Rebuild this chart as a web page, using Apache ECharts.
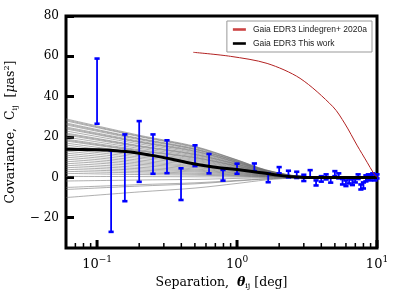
<!DOCTYPE html>
<html><head><meta charset="utf-8">
<script src="https://cdn.jsdelivr.net/npm/echarts@6/dist/echarts.min.js"></script>
<style>html,body{margin:0;padding:0;background:#fff}#c{width:399px;height:299px}</style>
</head><body><div id="c"></div>
<script>
// ---- tick labels ----
const xTickMajor = [0.1, 1, 10];
const xTickMinor = [0.07, 0.08, 0.09, 0.2, 0.3, 0.4, 0.5, 0.6, 0.7, 0.8, 0.9, 2, 3, 4, 5, 6, 7, 8, 9];
const yTicks = [-20, 0, 20, 40, 60, 80];

// ---- binned measurements (blue error bars) ----
const binX = [0.1, 0.126, 0.158, 0.2, 0.251, 0.316, 0.398, 0.501, 0.631, 0.794,
  1.0, 1.33, 1.67, 2.0, 2.33, 2.67, 3.0, 3.33, 3.67, 4.0, 4.33, 4.67, 5.0, 5.33,
  5.67, 6.0, 6.33, 6.67, 7.0, 7.33, 7.67, 8.0, 8.33, 8.67, 9.0, 9.33, 9.67, 10.0];
const binLow = [26.6, -27, -11.8, -2.2, 1.8, 2.1, -11.2, 5.6, 2.0, -1.6,
  1.8, 3.1, -2.4, 2.0, 0.0, -0.3, -1.8, 0.0, -4.0, -2.1, -1.0, -2.6, 0.6, -0.5,
  -3.5, -4.3, -3.0, -3.8, -2.5, -0.8, -6.0, -5.5, -2.0, -1.0, -1.5, 0.0, -1.5, -0.5];
const binHigh = [58.9, 13.4, 21.3, 27.9, 21.3, 18.4, 4.5, 15.9, 11.6, 3.7,
  6.8, 6.9, 2.0, 5.1, 3.3, 2.8, 1.3, 3.6, -1.5, 0.6, 1.5, 0.0, 3.1, 2.0,
  -0.8, -1.5, -0.5, -1.0, 0.0, 1.5, -3.5, -2.5, 1.0, 1.5, 1.2, 2.0, 1.5, 1.5];

// ---- this work (black) ----
const thisWorkX = [0.06, 0.1, 0.15, 0.2, 0.3, 0.4, 0.5, 0.7, 1.0, 1.5, 2.0, 2.5, 3.0, 4.0, 6.0, 10.0];
const thisWorkY = [14.0, 13.7, 13.0, 12.0, 9.8, 8.0, 6.6, 5.0, 3.9, 2.3, 1.0, 0.3, 0.0, 0.0, 0.0, 0.0];

// ---- Lindegren+ 2020a (red) ----
const lindegrenX = [0.487, 0.9, 1.64, 2.82, 4.85, 5.91, 7.19, 8.5, 9.41, 10.0];
const lindegrenY = [62.0, 60.0, 56.5, 49.1, 35.0, 26.5, 16.0, 7.5, 2.3, 0.0];

// ---- realisations (gray) ----
const grayX = [0.06, 0.2, 0.5, 1.0, 1.6, 2.8, 10];
const grayLines = [
  [29, 20.9, 15.4, 8.7, 3.8, 0.6, 0],
  [28.5, 20.5, 15.1, 8.6, 3.7, 0.6, 0],
  [28, 20.2, 14.8, 8.4, 3.6, 0.6, 0],
  [27, 19.4, 14.3, 8.1, 3.5, 0.5, 0],
  [26.5, 19.1, 14.0, 8.0, 3.4, 0.5, 0],
  [26, 18.7, 13.8, 7.8, 3.4, 0.5, 0],
  [25, 18.0, 13.3, 7.5, 3.3, 0.5, 0],
  [24.5, 17.6, 13.0, 7.4, 3.2, 0.5, 0],
  [24, 17.3, 12.7, 7.2, 3.1, 0.5, 0],
  [23, 16.6, 12.2, 6.9, 3.0, 0.5, 0],
  [22, 15.8, 11.7, 6.6, 2.9, 0.4, 0],
  [21.5, 15.5, 11.4, 6.5, 2.8, 0.4, 0],
  [21, 15.1, 11.1, 6.3, 2.7, 0.4, 0],
  [20, 14.4, 10.6, 6.0, 2.6, 0.4, 0],
  [19, 13.7, 10.1, 5.7, 2.5, 0.4, 0],
  [18.5, 13.3, 9.8, 5.6, 2.4, 0.4, 0],
  [18, 13.0, 9.5, 5.4, 2.3, 0.4, 0],
  [17, 12.2, 9.0, 5.1, 2.2, 0.3, 0],
  [16, 11.5, 8.5, 4.8, 2.1, 0.3, 0],
  [15, 10.8, 8.0, 4.5, 2.0, 0.3, 0],
  [14, 10.1, 7.4, 4.2, 1.8, 0.3, 0],
  [13, 9.4, 6.9, 3.9, 1.7, 0.3, 0],
  [12, 8.6, 6.4, 3.6, 1.6, 0.2, 0],
  [11, 7.9, 5.8, 3.3, 1.4, 0.2, 0],
  [10, 7.2, 5.3, 3.0, 1.3, 0.2, 0],
  [9, 6.5, 4.8, 2.7, 1.2, 0.2, 0],
  [8, 5.8, 4.2, 2.4, 1.0, 0.2, 0],
  [7, 5.0, 3.7, 2.1, 0.9, 0.1, 0],
  [6, 4.3, 3.2, 1.8, 0.8, 0.1, 0],
  [5, 3.6, 2.7, 1.5, 0.7, 0.1, 0],
  [4, 2.9, 2.1, 1.2, 0.5, 0.1, 0],
  [3, 2.2, 1.6, 0.9, 0.4, 0.1, 0],
  [2, 1.4, 1.1, 0.6, 0.3, 0.0, 0],
  [0.5, 0.4, 0.3, 0.2, 0.1, 0.0, 0],
  [-1.8, -1.3, -1.0, -0.5, -0.2, 0.0, 0],
  [-5, -3.6, -2.7, -1.5, -0.7, -0.1, 0],
  [-6, -4.3, -3.2, -1.8, -0.8, -0.1, 0],
  [-10, -7.2, -5.3, -3.0, -1.3, -0.2, 0]
];

const SERIF = 'DejaVu Serif';
const Y_MIN = -35, Y_MAX = 80;
const chart = echarts.init(document.getElementById('c'), null, {renderer: 'canvas'});

const series = [];
grayLines.forEach(row => {
  series.push({
    type: 'line', silent: true, symbol: 'none', smooth: 0.3, z: 1,
    data: grayX.map((x, i) => [x, row[i]]),
    lineStyle: {color: 'rgba(110,110,110,0.55)', width: 1}
  });
});
series.push({
  type: 'custom', z: 2, clip: false, silent: true,
  data: binX.map((x, i) => [x, binLow[i], binHigh[i]]),
  encode: {x: 0, y: [1, 2]},
  renderItem: (params, api) => {
    const x = api.value(0);
    const p1 = api.coord([x, api.value(1)]);
    const p2 = api.coord([x, api.value(2)]);
    const hw = 2.6;
    const st = {stroke: '#0000ff', lineWidth: 1.8};
    const cap = {stroke: '#0000ff', lineWidth: 2.6};
    return {type: 'group', children: [
      {type: 'line', shape: {x1: p1[0], y1: p1[1], x2: p2[0], y2: p2[1]}, style: st},
      {type: 'line', shape: {x1: p1[0] - hw, y1: p1[1], x2: p1[0] + hw, y2: p1[1]}, style: cap},
      {type: 'line', shape: {x1: p2[0] - hw, y1: p2[1], x2: p2[0] + hw, y2: p2[1]}, style: cap}
    ]};
  }
});
series.push({
  name: 'Gaia EDR3 This work', type: 'line', symbol: 'none', smooth: true, z: 3,
  data: thisWorkX.map((x, i) => [x, thisWorkY[i]]),
  lineStyle: {color: '#000', width: 3}, itemStyle: {color: '#000'}
});
series.push({
  name: 'Gaia EDR3 Lindegren+ 2020a', type: 'line', symbol: 'none', smooth: 0.3, z: 3,
  data: lindegrenX.map((x, i) => [x, lindegrenY[i]]),
  lineStyle: {color: '#b22222', width: 1}, itemStyle: {color: '#b22222'}
});

const option = {
  animation: false,
  grid: {left: 66, top: 16, width: 311, height: 232, show: true, borderColor: '#000', borderWidth: 3,
    backgroundColor: 'transparent', containLabel: false, outerBoundsMode: 'none'},
  legend: {
    data: [
      {name: 'Gaia EDR3 Lindegren+ 2020a', icon: 'rect', itemStyle: {color: '#c44'}},
      {name: 'Gaia EDR3 This work', icon: 'rect'}
    ],
    orient: 'vertical', right: 27, top: 21,
    padding: [4, 5, 4, 6], itemGap: 5, itemWidth: 13, itemHeight: 2.6,
    borderColor: '#999', borderWidth: 1, borderRadius: 0, backgroundColor: '#fff',
    textStyle: {fontFamily: 'Liberation Sans', fontSize: 8.5, color: '#222', padding: [0, 0, 0, 2]}
  },
  xAxis: {
    type: 'log', logBase: 10, min: 0.06, max: 10, position: 'bottom',
    axisLine: {show: false, onZero: false}, splitLine: {show: false}, minorTick: {show: false},
    axisTick: {show: false},
    axisLabel: {
      customValues: xTickMajor, margin: 7,
      formatter: v => {
        const e = Math.round(Math.log10(v));
        return '{b|10}{s|' + (e < 0 ? '\u2212' + (-e) : e) + '}';
      },
      rich: {
        b: {fontFamily: SERIF, fontSize: 13, color: '#000', lineHeight: 16, verticalAlign: 'bottom'},
        s: {fontFamily: SERIF, fontSize: 9, color: '#000', lineHeight: 16, verticalAlign: 'top'}
      }
    },
    name: '{n|Separation,  }{t|\u03b8}{sub|ij}{n| [deg]}',
    nameLocation: 'middle', nameGap: 15,
    nameTextStyle: {
      rich: {
        n: {fontFamily: SERIF, fontSize: 12.5, color: '#000', lineHeight: 16},
        t: {fontFamily: SERIF, fontSize: 12.5, color: '#000', fontStyle: 'italic', fontWeight: 'bold', lineHeight: 16},
        sub: {fontFamily: SERIF, fontSize: 8, color: '#000', lineHeight: 10, verticalAlign: 'bottom'}
      }
    }
  },
  yAxis: {
    type: 'value', min: Y_MIN, max: Y_MAX,
    axisLine: {show: false, onZero: false}, splitLine: {show: false},
    axisTick: {show: true, inside: true, length: 8, lineStyle: {color: '#000', width: 3}, customValues: yTicks},
    axisLabel: {
      customValues: yTicks, margin: 7, fontFamily: SERIF, fontSize: 12, color: '#000',
      formatter: v => (v < 0 ? '\u2212 ' + (-v) : String(v))
    },
    name: '{n|Covariance,  C}{sub|ij}{n|  [}{m|\u03bc}{n|as}{sup|2}{n|]}',
    nameLocation: 'middle', nameGap: 33, nameRotate: 90,
    nameTextStyle: {
      rich: {
        n: {fontFamily: SERIF, fontSize: 12.5, color: '#000', lineHeight: 16},
        m: {fontFamily: SERIF, fontSize: 12.5, color: '#000', fontStyle: 'italic', lineHeight: 16},
        sub: {fontFamily: SERIF, fontSize: 8, color: '#000', lineHeight: 10, verticalAlign: 'bottom'},
        sup: {fontFamily: SERIF, fontSize: 8, color: '#000', lineHeight: 10, verticalAlign: 'top'}
      }
    }
  },
  series: series
};
chart.setOption(option);

// inward x-axis ticks, positioned through the chart's own axis scale
const tickEls = [];
function addTicks(vals, len, w) {
  vals.forEach(v => {
    const p = chart.convertToPixel({gridIndex: 0}, [v, Y_MIN]);
    tickEls.push({type: 'line', zlevel: 1, z: 100, silent: true,
      shape: {x1: p[0], y1: p[1], x2: p[0], y2: p[1] - len},
      style: {stroke: '#000', lineWidth: w}});
  });
}
addTicks(xTickMajor, 8, 3);
addTicks(xTickMinor, 5, 1.5);
chart.setOption({graphic: {elements: tickEls}});
</script></body></html>
